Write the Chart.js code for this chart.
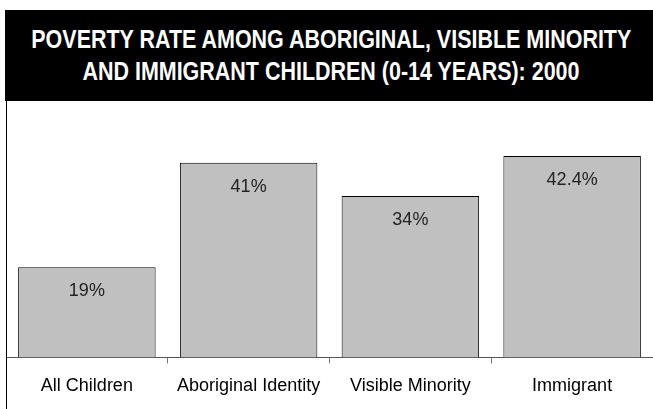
<!DOCTYPE html>
<html>
<head>
<meta charset="utf-8">
<script src="https://cdn.jsdelivr.net/npm/chart.js@4"></script>
<style>
  html, body { margin: 0; padding: 0; background: #fff; }
  #wrap { position: relative; width: 653px; height: 409px; overflow: hidden; }
  #title {
    position: absolute; left: 5px; top: 10px; width: 648px; height: 91px;
    background: #000; overflow: hidden;
  }
  #title .line {
    position: absolute; left: -200px; width: 1052px; text-align: center;
    color: #fff; font: bold 26px "Liberation Sans", Arial, sans-serif;
    line-height: 32px; white-space: nowrap;
  }
  #title .line span { display: inline-block; transform-origin: 50% 50%; }
  #edge { position: absolute; left: 6px; top: 100px; width: 1px; height: 309px; background: #000; }
  canvas { position: absolute; left: 0; top: 0; }
</style>
</head>
<body>
<div id="wrap">
  <canvas id="chart" width="653" height="409"></canvas>
  <div id="title">
    <div class="line" style="top:13px"><span>POVERTY RATE AMONG ABORIGINAL, VISIBLE MINORITY</span></div>
    <div class="line" style="top:45px"><span>AND IMMIGRANT CHILDREN (0-14 YEARS): 2000</span></div>
  </div>
  <div id="edge"></div>
</div>
<script>
  // categories and rates (%)
  const groups = ['All Children', 'Aboriginal Identity', 'Visible Minority', 'Immigrant'];
  const rates  = [19, 41, 34, 42.4];
  const rateLabels = ['19%', '41%', '34%', '42.4%'];

  // squeeze the heading into a condensed look: first line ~600px wide
  const spans = document.querySelectorAll('#title .line span');
  const squeeze = 600 / spans[0].getBoundingClientRect().width;
  spans.forEach(s => s.style.transform = `scaleX(${squeeze})`);

  // value text near the top of each bar
  const barLabels = {
    id: 'barLabels',
    afterDatasetsDraw(chart) {
      const ctx = chart.ctx;
      const meta = chart.getDatasetMeta(0);
      ctx.save();
      ctx.font = '18px "Liberation Sans", Arial, sans-serif';
      ctx.fillStyle = '#222';
      ctx.textAlign = 'center';
      ctx.textBaseline = 'middle';
      meta.data.forEach((bar, i) => {
        ctx.fillText(rateLabels[i], bar.x, bar.y + 24);
      });
      ctx.restore();
    }
  };

  new Chart(document.getElementById('chart'), {
    type: 'bar',
    data: {
      labels: groups,
      datasets: [{
        data: rates,
        backgroundColor: '#c0c0c0',
        borderColor: '#000',
        borderWidth: 1,
        barPercentage: 0.85,
        categoryPercentage: 1
      }]
    },
    options: {
      responsive: false,
      animation: false,
      layout: { padding: { top: 120, left: 6, right: 0, bottom: 0 } },
      plugins: { legend: { display: false }, tooltip: { enabled: false } },
      scales: {
        x: {
          grid: { drawOnChartArea: false, drawTicks: true, tickLength: 6, color: '#777', offset: true },
          border: { display: true, color: '#555', width: 1 },
          ticks: { color: '#000', padding: 12, font: { family: '"Liberation Sans", Arial, sans-serif', size: 18 } }
        },
        y: {
          display: false,
          min: 0,
          max: 50
        }
      }
    },
    plugins: [barLabels]
  });
</script>
</body>
</html>
